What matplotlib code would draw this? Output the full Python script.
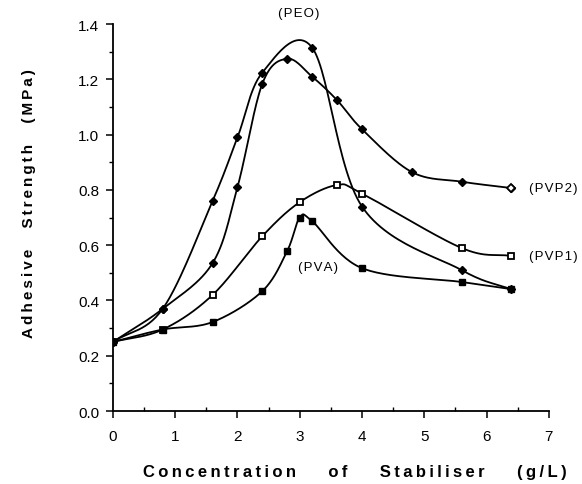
# Adhesive strength vs stabiliser concentration
import matplotlib
matplotlib.use("Agg")
import matplotlib.pyplot as plt
from matplotlib.ticker import MultipleLocator
import numpy as np

plt.rcParams['font.family'] = ['Liberation Sans', 'DejaVu Sans']

# === DATA ===
peo_x = [0, 0.8, 1.6, 2.0, 2.4, 3.2, 4.0, 5.6, 6.4]
peo_y = [0.25, 0.37, 0.76, 0.99, 1.225, 1.315, 0.74, 0.51, 0.44]

pvp2_x = [0, 0.8, 1.6, 2.0, 2.4, 2.8, 3.2, 3.6, 4.0, 4.8, 5.6, 6.4]
pvp2_y = [0.25, 0.37, 0.535, 0.81, 1.185, 1.275, 1.21, 1.125, 1.02, 0.865, 0.83, 0.807]

pvp1_x = [0, 0.8, 1.6, 2.4, 3.0, 3.6, 4.0, 5.6, 6.4]
pvp1_y = [0.25, 0.295, 0.42, 0.633, 0.756, 0.818, 0.787, 0.59, 0.561]

pva_x = [0, 0.8, 1.6, 2.4, 2.8, 3.0, 3.2, 4.0, 5.6, 6.4]
pva_y = [0.25, 0.295, 0.322, 0.434, 0.58, 0.70, 0.687, 0.517, 0.467, 0.441]


def smooth(x, y, n=30):
    # Catmull-Rom curve through the data points
    x = np.asarray(x, float)
    y = np.asarray(y, float)
    px = np.concatenate([[2 * x[0] - x[1]], x, [2 * x[-1] - x[-2]]])
    py = np.concatenate([[2 * y[0] - y[1]], y, [2 * y[-1] - y[-2]]])
    xs, ys = [], []
    t = np.linspace(0, 1, n)
    for i in range(1, len(px) - 2):
        for p, out in ((px, xs), (py, ys)):
            p0, p1, p2, p3 = p[i - 1], p[i], p[i + 1], p[i + 2]
            m1 = (p2 - p0) / 2
            m2 = (p3 - p1) / 2
            h00 = 2 * t**3 - 3 * t**2 + 1
            h10 = t**3 - 2 * t**2 + t
            h01 = -2 * t**3 + 3 * t**2
            h11 = t**3 - t**2
            out.append(h00 * p1 + h10 * m1 + h01 * p2 + h11 * m2)
    return np.concatenate(xs), np.concatenate(ys)


def spaced(s, gap="\u2009", wordgap="   "):
    # loose letter spacing like the typeset original
    return wordgap.join(gap.join(w) for w in s.split(" "))


fig = plt.figure(figsize=(5.82, 4.85), dpi=100)
ax = fig.add_axes([0.194, 0.1505, 0.749, 0.7975])

lw = 1.3
for xv, yv in [(peo_x, peo_y), (pvp2_x, pvp2_y), (pvp1_x, pvp1_y), (pva_x, pva_y)]:
    sx, sy = smooth(xv, yv)
    ax.plot(sx, sy, color='black', lw=lw)

ax.plot(peo_x, peo_y, 'D', color='black', markersize=4.3, ls='none')
ax.plot(pvp2_x, pvp2_y, 'D', color='black', markerfacecolor='black', markersize=4.3, ls='none')
ax.plot(pvp2_x[-1], pvp2_y[-1], 'D', color='black', markerfacecolor='white', markersize=4.3, mew=1.3)
ax.plot(pvp1_x, pvp1_y, 's', color='black', markerfacecolor='white', markersize=4.8, mew=1.3, ls='none')
ax.plot(pva_x, pva_y, 's', color='black', markersize=4.8, ls='none')

# curve labels
lab = dict(fontsize=9.5)
ax.text(2.99, 1.44, spaced("(PEO)", "\u200a"), ha='center', va='center', **lab)
ax.text(6.68, 0.807, spaced("(PVP2)", "\u200a"), ha='left', va='center', **lab)
ax.text(6.68, 0.56, spaced("(PVP1)", "\u200a"), ha='left', va='center', **lab)
ax.text(3.29, 0.52, spaced("(PVA)", "\u200a"), ha='center', va='center', **lab)

# === AXES ===
ax.set_xlim(0, 7)
ax.set_ylim(0, 1.4)
ax.spines['top'].set_visible(False)
ax.spines['right'].set_visible(False)
ax.spines['left'].set_linewidth(1.3)
ax.spines['bottom'].set_linewidth(1.3)
ax.xaxis.set_major_locator(MultipleLocator(1))
ax.xaxis.set_minor_locator(MultipleLocator(0.5))
ax.yaxis.set_major_locator(MultipleLocator(0.2))
ax.yaxis.set_minor_locator(MultipleLocator(0.1))
ax.yaxis.set_major_formatter(plt.FormatStrFormatter('%.1f'))
ax.tick_params(axis='both', which='major', labelsize=11, length=5, width=1.1, direction='out')
ax.tick_params(axis='x', which='minor', length=3, width=1, direction='in')
ax.tick_params(axis='y', which='minor', length=3, width=1, direction='out')
ax.tick_params(axis='x', which='major', pad=8)
ax.tick_params(axis='y', which='major', pad=5)

ax.set_xlabel(spaced("Concentration of Stabiliser (g/L)", "\u2009", "       "),
              fontsize=12, fontweight='bold', labelpad=15)
ax.set_ylabel(spaced("Adhesive Strength (MPa)", "\u2009", "     "),
              fontsize=11, fontweight='bold', labelpad=30)
ax.xaxis.label.set_x(0.555)
ax.yaxis.label.set_y(0.54)

plt.savefig("out.png", dpi=100)
